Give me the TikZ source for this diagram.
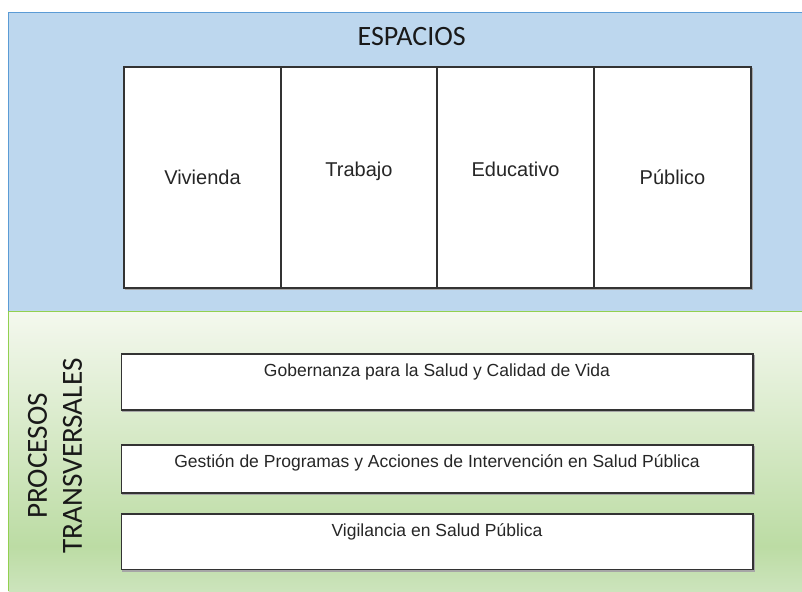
\documentclass[tikz,border=0pt]{standalone}
\usepackage{fontspec}
\setmainfont{Liberation Sans}
\newfontfamily\calib{Carlito}
\definecolor{bluefill}{HTML}{BDD7EE}
\definecolor{blueline}{HTML}{5B9BD5}
\definecolor{greenline}{HTML}{92D050}
\definecolor{gtop}{HTML}{F4F8EE}
\definecolor{gmid}{HTML}{BCDCA4}
\definecolor{gbot}{HTML}{CCE4BC}
\definecolor{boxline}{HTML}{333333}
\pgfdeclareverticalshading{greenfade}{100bp}{color(0bp)=(gbot); color(25bp)=(gbot); color(33bp)=(gmid); color(75bp)=(gtop); color(100bp)=(gtop)}
\tikzset{
  colbox/.style={draw=boxline, line width=1.6pt, fill=white, inner sep=0pt, outer sep=0pt},
  rowbox/.style={draw=boxline, line width=1.6pt, fill=white, inner sep=0pt, outer sep=0pt},
  shadowbox/.style={draw=black!35, line width=1.6pt},
  coltext/.style={font=\fontsize{20}{24}\selectfont, text=black!85, anchor=base, inner sep=0pt},
  rowtext/.style={font=\fontsize{17.5}{21}\selectfont, text=black!85, anchor=base, inner sep=0pt},
  bigtext/.style={font=\calib\fontsize{28}{35}\selectfont, text=black!90, inner sep=0pt},
  sidetext/.style={font=\calib\fontsize{29.2}{35}\selectfont, text=black!90, inner sep=0pt}
}
\begin{document}
\begin{tikzpicture}[x=1pt,y=-1pt]
\useasboundingbox (0,0) rectangle (802,591);
% blue region
\fill[bluefill] (8.5,12.5) rectangle (802,311.5);
\draw[blueline, line width=1.5pt] (8.5,311.5) -- (8.5,12.5) -- (802,12.5);
% green region
\shade[shading=greenfade] (8.5,311.5) rectangle (802,591);
\draw[greenline, line width=1.5pt] (8.5,591) -- (8.5,311.5) -- (802,311.5);
% title
\node[bigtext, anchor=base] (esp) at (411.7,45.7) {ESPACIOS};
% column boxes
\draw[shadowbox] (125.5,69) rectangle (752.5,289.5);
\node[colbox, minimum width=157pt, minimum height=221pt, anchor=north west] (viv) at (124,67) {};
\node[colbox, minimum width=156pt, minimum height=221pt, anchor=north west] (tra) at (281,67) {};
\node[colbox, minimum width=157pt, minimum height=221pt, anchor=north west] (edu) at (437,67) {};
\node[colbox, minimum width=157pt, minimum height=221pt, anchor=north west] (pub) at (594,67) {};
\node[coltext] (tviv) at (202.5,184.3) {Vivienda};
\node[coltext] (ttra) at (359,176) {Trabajo};
\node[coltext] (tedu) at (515.5,176) {Educativo};
\node[coltext] (tpub) at (672.5,184.3) {Público};
% side label
\node[sidetext, rotate=90, align=center] (proc) at (55,456) {PROCESOS\\TRANSVERSALES};
% row boxes
\draw[shadowbox] (122.8,355.5) rectangle (754.5,411.5);
\draw[shadowbox] (122.8,446.5) rectangle (754.5,494.5);
\draw[shadowbox] (122.8,515.5) rectangle (754.5,571);
\node[rowbox, minimum width=631.7pt, minimum height=56pt, anchor=north west] (gob) at (121.3,354) {};
\node[rowbox, minimum width=631.7pt, minimum height=48pt, anchor=north west] (ges) at (121.3,445) {};
\node[rowbox, minimum width=631.7pt, minimum height=55.5pt, anchor=north west] (vig) at (121.3,514) {};
\node[rowtext] (tgob) at (437,376.7) {Gobernanza para la Salud y Calidad de Vida};
\node[rowtext] (tges) at (437,467.7) {Gestión de Programas y Acciones de Intervención en Salud Pública};
\node[rowtext] (tvig) at (437,536) {Vigilancia en Salud Pública};
\end{tikzpicture}
\end{document}
